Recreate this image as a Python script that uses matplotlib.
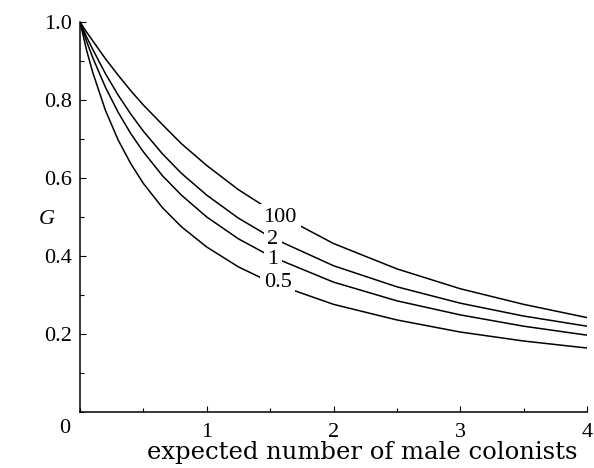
import numpy as np
import matplotlib
matplotlib.use("Agg")
import matplotlib.pyplot as plt
from matplotlib.ticker import MultipleLocator

# valeurs
x = [0, 0.05, 0.1, 0.2, 0.3, 0.4, 0.5, 0.65, 0.8, 1.0, 1.25, 1.5, 2.0, 2.5, 3.0, 3.5, 4.0]

g_100 = [1.0, 0.975, 0.952, 0.906, 0.864, 0.824, 0.787, 0.737, 0.688, 0.632, 0.570, 0.518, 0.432, 0.367, 0.316, 0.276, 0.242]
g_2 = [1.0, 0.963, 0.930, 0.868, 0.813, 0.764, 0.720, 0.662, 0.612, 0.556, 0.497, 0.449, 0.375, 0.321, 0.279, 0.246, 0.220]
g_1 = [1.0, 0.952, 0.909, 0.833, 0.769, 0.714, 0.667, 0.606, 0.556, 0.500, 0.444, 0.400, 0.333, 0.285, 0.249, 0.220, 0.197]
g_05 = [1.0, 0.930, 0.871, 0.774, 0.698, 0.637, 0.586, 0.524, 0.475, 0.423, 0.372, 0.333, 0.276, 0.236, 0.205, 0.182, 0.164]

curves = [g_100, g_2, g_1, g_05]
labels = ["100", "2", "1", "0.5"]
label_pos = [(1.58, 0.499), (1.52, 0.442), (1.52, 0.390), (1.56, 0.332)]

plt.rcParams['font.family'] = ['Liberation Serif', 'DejaVu Serif']
fs = 16

fig = plt.figure(figsize=(5.94, 4.68), dpi=100)
ax = fig.add_axes([0.1347, 0.1197, 0.8535, 0.8333])

for g in curves:
    ax.plot(x, g, color='black', lw=1.1, solid_capstyle='butt')

for lab, (lx, ly) in zip(labels, label_pos):
    ax.text(lx, ly, lab, fontsize=fs, ha='center', va='center',
            bbox=dict(facecolor='white', edgecolor='none', pad=2.5))

ax.set_xlim(0, 4)
ax.set_ylim(0, 1)
for s in ['top', 'right']:
    ax.spines[s].set_visible(False)
for s in ['left', 'bottom']:
    ax.spines[s].set_linewidth(1.1)

ax.set_xticks([1, 2, 3, 4])
ax.set_yticks([0.2, 0.4, 0.6, 0.8, 1.0])
ax.set_yticklabels(["0.2", "0.4", "0.6", "0.8", "1.0"])
ax.xaxis.set_minor_locator(MultipleLocator(0.5))
ax.yaxis.set_minor_locator(MultipleLocator(0.1))
ax.tick_params(which='both', direction='in', width=0.8, labelsize=fs)
ax.tick_params(which='major', length=4)
ax.tick_params(which='minor', length=3)
ax.tick_params(axis='x', pad=8)
ax.tick_params(axis='y', pad=6)

ax.text(-0.12, -0.042, "0", fontsize=fs, ha='center', va='center')
ax.set_xlabel("expected number of male colonists", fontsize=17.5, family='DejaVu Serif')
ax.xaxis.set_label_coords(0.556, -0.075)
ax.set_ylabel("G", fontsize=fs, style='italic', rotation=0)
ax.yaxis.set_label_coords(-0.065, 0.47)

fig.savefig("out.png", dpi=100)
